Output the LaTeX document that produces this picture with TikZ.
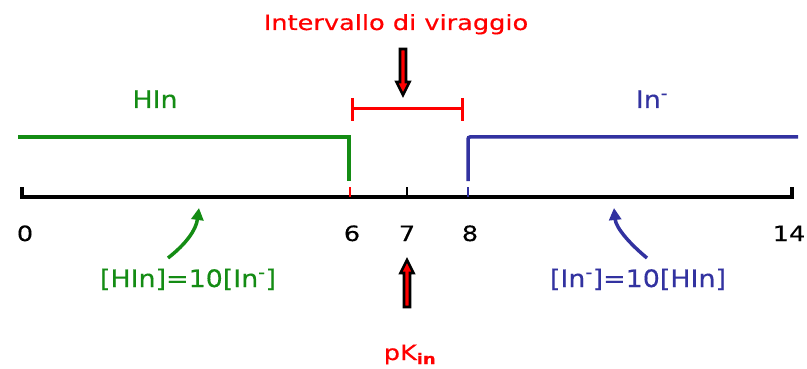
\documentclass[tikz,border=0pt]{standalone}
\usepackage{fontspec}
\setmainfont{DejaVu Sans}[FakeStretch=1.22,FakeBold=0.4]
\newfontfamily\lblfont{DejaVu Sans}[FakeStretch=1.12,FakeBold=0.4]
\usetikzlibrary{arrows.meta,calc}
\definecolor{ingreen}{RGB}{20,140,20}
\definecolor{inblue}{RGB}{50,50,160}
\definecolor{inred}{RGB}{255,0,0}
\begin{document}
\begin{tikzpicture}[x=1pt,y=-1pt,
  txt/.style={inner sep=0pt, anchor=base, font=\fontsize{21}{25}\selectfont},
  bigtxt/.style={inner sep=0pt, anchor=base, font=\lblfont\fontsize{24}{28}\selectfont},
  axisline/.style={line width=3.8pt, black},
  rangeline/.style={line width=3.5pt},
  tick/.style={line width=2.6pt},
  bracketline/.style={line width=3pt, inred},
  bigarrow/.style={fill=inred, draw=black, line width=2.6pt, line join=miter},
  curvearrow/.style={line width=3.5pt, -{Triangle[length=12pt,width=12pt]}}
]
\useasboundingbox (0,0) rectangle (807,369);

% axis
\coordinate (a0) at (22,197);
\coordinate (a6) at (350,197);
\coordinate (a7) at (407,197);
\coordinate (a8) at (468,197);
\coordinate (a14) at (792,197);
\draw[axisline] (a0) ++(0,-10) -- (a0) -- (a14) -- ++(0,-10);
\draw[tick, inred] (a6) -- ++(0,-10);
\draw[tick, black] (a7) -- ++(0,-10);
\draw[tick, inblue] (a8) -- ++(0,-10);

% ranges
\coordinate (g0) at (18,137);
\coordinate (g1) at (349,137);
\coordinate (g2) at (349,181);
\draw[rangeline, ingreen] (g0) -- (g1) -- (g2);
\coordinate (b0) at (468,181);
\coordinate (b1) at (468,137);
\coordinate (b2) at (798,137);
\draw[rangeline, inblue, rounded corners=2pt] (b0) -- (b1) -- (b2);

% bracket
\coordinate (r0) at (352,98);
\coordinate (r1) at (462,98);
\draw[bracketline] (r0) -- ++(0,23);
\draw[bracketline] (r1) -- ++(0,23);
\draw[bracketline] ($(r0)+(0,11)$) -- ($(r1)+(0,11)$);

% numbers
\node[txt] (n0) at (25,241) {0};
\node[txt] (n6) at (352,241) {6};
\node[txt] (n7) at (407,241) {7};
\node[txt] (n8) at (470,241) {8};
\node[txt] (n14) at (789,241) {14};

% labels
\node[txt, text=inred] (title) at (396,30) {Intervallo di viraggio};
\node[bigtxt, text=ingreen] (hin) at (155,108) {HIn};
\node[bigtxt, text=inblue] (inm) at (652,108) {In\textsuperscript{-}};
\node[bigtxt, text=ingreen] (eqg) at (188,287) {[HIn]=10[In\textsuperscript{-}]};
\node[bigtxt, text=inblue] (eqb) at (638,287) {[In\textsuperscript{-}]=10[HIn]};
\node[txt, text=inred] (pk) at (410,360) {pK\textsubscript{\textbf{in}}};

% big arrows
\draw[bigarrow] (400,49) -- (406,49) -- (406,82) -- (409.5,82) -- (403,95) -- (396.5,82) -- (400,82) -- cycle;
\draw[bigarrow] (404,307) -- (410,307) -- (410,273) -- (413.5,273) -- (407,260) -- (400.5,273) -- (404,273) -- cycle;

% curved arrows
\coordinate (gt) at (199,208);
\coordinate (bt) at (614,208);
\draw[curvearrow, ingreen] (168,258) .. controls (186,244) and (196,230) .. (gt);
\draw[curvearrow, inblue] (647,258) .. controls (630,244) and (616,228) .. (bt);
\end{tikzpicture}
\end{document}
